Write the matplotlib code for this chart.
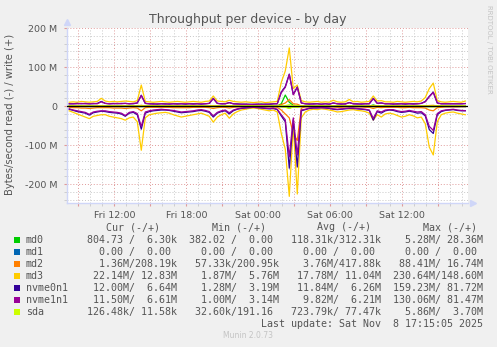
import numpy as np
import matplotlib
matplotlib.use("Agg")
import matplotlib.pyplot as plt
from matplotlib.patches import Rectangle
from matplotlib.ticker import MultipleLocator, FixedLocator

# time axis: hours since Fri 00:00, one sample every 20 minutes
t_start = 8.25
t_step = 1 / 3
n_pts = 100

# values in MB/s, read values are drawn below zero
md0_read = [
    0.1, 0.1, 0.1, 0.1, 0.1, 0.1, 0.1, 0.1, 0.2, 0.1,
    0.1, 0.1, 0.1, 0.1, 0.1, 0.1, 0.1, 0.1, 0.6, 0.1,
    0.1, 0.1, 0.1, 0.1, 0.1, 0.1, 0.1, 0.1, 0.1, 0.1,
    0.1, 0.1, 0.1, 0.1, 0.1, 0.1, 0.3, 0.1, 0.1, 0.1,
    0.1, 0.1, 0.1, 0.1, 0.1, 0.1, 0.1, 0.1, 0.1, 0.1,
    0.1, 0.1, 0.1, 0.8, 1.5, 5.3, 1.2, 2.0, 0.1, 0.1,
    0.1, 0.1, 0.1, 0.1, 0.1, 0.1, 0.1, 0.1, 0.1, 0.1,
    0.1, 0.1, 0.1, 0.1, 0.1, 0.1, 0.4, 0.1, 0.1, 0.1,
    0.1, 0.1, 0.1, 0.1, 0.1, 0.1, 0.1, 0.1, 0.1, 0.1,
    0.3, 0.4, 0.1, 0.1, 0.1, 0.1, 0.1, 0.1, 0.1, 0.1,
]
md0_write = [
    0.05, 0.05, 0.05, 0.05, 0.05, 0.05, 0.05, 0.05, 0.1, 0.05,
    0.05, 0.05, 0.05, 0.05, 0.05, 0.05, 0.05, 0.05, 0.5, 0.05,
    0.05, 0.05, 0.05, 0.05, 0.05, 0.05, 0.05, 0.05, 0.05, 0.05,
    0.05, 0.05, 0.05, 0.05, 0.05, 0.05, 0.3, 0.05, 0.05, 0.05,
    0.05, 0.05, 0.05, 0.05, 0.05, 2.0, 4.0, 3.0, 5.0, 3.0,
    4.0, 2.0, 0.5, 6.0, 28.4, 10.0, 2.0, 1.0, 0.05, 0.05,
    0.05, 0.05, 0.05, 0.05, 0.05, 0.05, 0.05, 0.05, 0.05, 0.05,
    0.05, 0.05, 0.05, 0.05, 0.05, 0.05, 3.0, 0.05, 0.05, 0.05,
    0.05, 0.05, 0.05, 0.05, 0.05, 0.05, 0.05, 0.05, 0.05, 0.05,
    0.2, 0.3, 0.05, 0.05, 0.05, 0.05, 0.05, 0.05, 0.05, 0.01,
]
md1_read = [
    0, 0, 0, 0, 0, 0, 0, 0, 0, 0, 0, 0, 0, 0, 0, 0, 0, 0, 0, 0,
    0, 0, 0, 0, 0, 0, 0, 0, 0, 0, 0, 0, 0, 0, 0, 0, 0, 0, 0, 0,
    0, 0, 0, 0, 0, 0, 0, 0, 0, 0, 0, 0, 0, 0, 0, 0, 0, 0, 0, 0,
    0, 0, 0, 0, 0, 0, 0, 0, 0, 0, 0, 0, 0, 0, 0, 0, 0, 0, 0, 0,
    0, 0, 0, 0, 0, 0, 0, 0, 0, 0, 0, 0, 0, 0, 0, 0, 0, 0, 0, 0,
]
md1_write = list(md1_read)
md2_read = [
    3, 4, 4, 5, 5, 6, 5, 4, 4, 4,
    4, 5, 5, 5, 6, 5, 4, 5, 12, 4,
    3, 3, 3, 3, 3, 3, 4, 4, 4, 4,
    4, 3, 3, 3, 3, 4, 6, 4, 3, 3,
    5, 3, 2, 2, 2, 1, 1, 1, 2, 2,
    2, 2, 3, 10, 20, 30, 70, 88, 5, 2,
    2, 2, 2, 2, 2, 2, 2, 3, 3, 2,
    2, 2, 2, 2, 3, 3, 6, 3, 4, 3,
    3, 3, 3, 4, 4, 3, 4, 4, 4, 5,
    10, 12, 4, 3, 2, 2, 2, 2, 1.5, 1.4,
]
md2_write = [
    0.3, 0.3, 0.4, 0.3, 0.4, 0.3, 0.3, 0.4, 0.6, 0.3,
    0.3, 0.4, 0.3, 0.4, 0.4, 0.3, 0.3, 0.4, 2.0, 0.3,
    0.3, 0.3, 0.3, 0.3, 0.3, 0.3, 0.3, 0.3, 0.3, 0.3,
    0.3, 0.3, 0.3, 0.3, 0.3, 0.4, 1.0, 0.4, 0.3, 0.3,
    0.5, 0.3, 0.3, 0.3, 0.3, 0.3, 0.3, 0.3, 0.3, 0.3,
    0.3, 0.3, 0.3, 4.0, 8.0, 16.7, 6.0, 5.0, 0.4, 0.3,
    0.3, 0.3, 0.3, 0.3, 0.3, 0.3, 0.3, 0.3, 0.3, 0.3,
    0.3, 0.3, 0.3, 0.3, 0.3, 0.3, 1.0, 0.3, 0.3, 0.3,
    0.3, 0.3, 0.3, 0.3, 0.3, 0.3, 0.3, 0.3, 0.3, 0.5,
    1.5, 2.0, 0.3, 0.3, 0.3, 0.3, 0.3, 0.3, 0.3, 0.2,
]
md3_read = [
    12, 16, 20, 24, 28, 32, 26, 24, 22, 22,
    26, 28, 30, 32, 36, 30, 28, 40, 113, 30,
    22, 20, 18, 17, 16, 18, 22, 25, 28, 26,
    24, 22, 20, 18, 22, 26, 41, 28, 22, 18,
    31, 20, 14, 10, 8, 6, 5, 6, 8, 10,
    12, 10, 15, 70, 110, 231, 50, 225, 30, 15,
    10, 8, 9, 7, 8, 10, 12, 15, 14, 12,
    10, 9, 11, 12, 14, 18, 36, 22, 28, 20,
    18, 20, 24, 28, 26, 22, 25, 30, 28, 45,
    105, 125, 40, 22, 18, 16, 15, 18, 20, 22,
]
md3_write = [
    10, 11, 10, 12, 11, 10, 11, 12, 20, 13,
    11, 12, 11, 12, 13, 12, 11, 14, 54, 12,
    11, 10, 11, 12, 11, 10, 11, 12, 11, 10,
    11, 12, 11, 10, 12, 13, 26, 13, 12, 11,
    15, 12, 11, 10, 11, 10, 9, 10, 11, 9,
    10, 11, 12, 61, 90, 149, 45, 54, 14, 11,
    10, 11, 12, 10, 11, 10, 15, 11, 10, 11,
    17, 11, 12, 10, 11, 12, 26, 13, 14, 11,
    11, 10, 12, 11, 10, 11, 12, 11, 13, 22,
    45, 59, 14, 11, 10, 11, 12, 11, 10, 13,
]
nvme0n1_read = [
    8, 11, 14, 16, 18, 23, 17, 15, 13, 14,
    16, 17, 18, 20, 26, 18, 16, 22, 59, 18,
    14, 12, 11, 10, 10, 11, 13, 15, 17, 16,
    15, 14, 12, 11, 13, 16, 28, 18, 14, 12,
    20, 12, 8, 6, 5, 4, 3, 4, 5, 6,
    7, 6, 9, 25, 40, 159, 35, 156, 12, 9,
    6, 5, 5, 4, 5, 6, 8, 9, 8, 7,
    6, 6, 7, 8, 9, 11, 36, 14, 18, 12,
    10, 11, 14, 16, 15, 13, 15, 18, 17, 25,
    60, 70, 22, 14, 11, 10, 9, 11, 12, 12,
]
nvme0n1_write = [
    6, 6, 7, 6, 7, 6, 6, 7, 12, 7,
    6, 7, 6, 7, 7, 6, 6, 8, 28, 7,
    6, 6, 5, 6, 6, 5, 6, 6, 6, 5,
    6, 6, 6, 5, 6, 7, 20, 7, 6, 6,
    9, 6, 6, 5, 5, 5, 4, 5, 5, 5,
    5, 6, 6, 36, 50, 82, 30, 49, 8, 6,
    5, 6, 6, 5, 6, 5, 8, 6, 5, 6,
    9, 6, 6, 5, 6, 6, 20, 7, 8, 6,
    6, 5, 6, 6, 5, 6, 6, 6, 7, 12,
    25, 36, 8, 6, 6, 6, 6, 6, 6, 6.6,
]
nvme1n1_read = [
    7, 10, 12, 14, 16, 21, 15, 13, 12, 12,
    14, 15, 16, 18, 24, 16, 14, 19, 52, 15,
    12, 10, 9, 8, 9, 10, 11, 13, 15, 14,
    13, 12, 10, 9, 11, 14, 25, 16, 12, 10,
    17, 10, 7, 5, 4, 3, 3, 3, 4, 5,
    6, 5, 8, 22, 35, 130, 30, 125, 10, 8,
    5, 4, 4, 4, 4, 5, 7, 8, 7, 6,
    5, 5, 6, 7, 8, 10, 31, 12, 15, 10,
    9, 9, 12, 14, 13, 11, 13, 15, 14, 22,
    52, 62, 19, 12, 10, 9, 8, 10, 11, 11.5,
]
nvme1n1_write = [
    6, 6, 6, 7, 6, 6, 7, 6, 11, 7,
    6, 6, 7, 6, 7, 6, 7, 8, 27, 7,
    6, 5, 6, 6, 5, 6, 6, 5, 6, 6,
    6, 5, 6, 6, 6, 7, 19, 7, 6, 6,
    9, 6, 5, 5, 5, 4, 5, 5, 4, 5,
    5, 6, 6, 35, 48, 81, 29, 48, 8, 6,
    6, 5, 6, 5, 6, 5, 8, 6, 6, 5,
    9, 6, 5, 6, 6, 6, 19, 7, 8, 6,
    6, 6, 5, 6, 6, 6, 5, 6, 7, 11,
    24, 35, 8, 6, 6, 6, 6, 6, 6, 6.6,
]
sda_read = [
    0.6, 0.7, 0.7, 0.8, 0.7, 0.6, 0.7, 0.8, 0.9, 0.7,
    0.6, 0.7, 0.7, 0.8, 0.7, 0.6, 0.7, 0.8, 1.5, 0.7,
    0.6, 0.7, 0.7, 0.6, 0.7, 0.6, 0.7, 0.8, 0.7, 0.7,
    0.6, 0.7, 0.7, 0.8, 0.7, 0.6, 1.2, 0.8, 0.7, 0.7,
    0.8, 0.7, 0.6, 0.6, 0.5, 0.5, 0.6, 0.5, 0.6, 0.6,
    0.6, 0.7, 0.7, 2.0, 3.0, 5.9, 2.0, 3.5, 0.7, 0.6,
    0.6, 0.7, 0.6, 0.6, 0.7, 0.6, 0.7, 0.8, 0.7, 0.7,
    0.6, 0.7, 0.7, 0.8, 0.7, 0.6, 1.5, 0.8, 0.7, 0.7,
    0.6, 0.7, 0.7, 0.8, 0.7, 0.6, 0.7, 0.8, 0.7, 0.9,
    1.8, 2.2, 0.8, 0.7, 0.6, 0.6, 0.5, 0.4, 0.2, 0.13,
]
sda_write = [
    0.08, 0.08, 0.08, 0.08, 0.08, 0.08, 0.08, 0.08, 0.08, 0.08,
    0.08, 0.08, 0.08, 0.08, 0.08, 0.08, 0.08, 0.08, 0.5, 0.08,
    0.08, 0.08, 0.08, 0.08, 0.08, 0.08, 0.08, 0.08, 0.08, 0.08,
    0.08, 0.08, 0.08, 0.08, 0.08, 0.08, 0.2, 0.08, 0.08, 0.08,
    0.08, 0.08, 0.08, 0.08, 0.08, 0.08, 0.08, 0.08, 0.08, 0.08,
    0.08, 0.08, 0.08, 0.5, 1.0, 3.7, 1.0, 1.5, 0.08, 0.08,
    0.08, 0.08, 0.08, 0.08, 0.08, 0.08, 0.08, 0.08, 0.08, 0.08,
    0.08, 0.08, 0.08, 0.08, 0.08, 0.08, 0.3, 0.08, 0.08, 0.08,
    0.08, 0.08, 0.08, 0.08, 0.08, 0.08, 0.08, 0.08, 0.08, 0.08,
    0.2, 0.3, 0.08, 0.08, 0.08, 0.08, 0.08, 0.08, 0.08, 0.01,
]

devices = ["md0", "md1", "md2", "md3", "nvme0n1", "nvme1n1", "sda"]
colors = ["#00CC00", "#0066B3", "#FF8000", "#FFCC00", "#330099", "#990099", "#CCFF00"]
reads = [md0_read, md1_read, md2_read, md3_read, nvme0n1_read, nvme1n1_read, sda_read]
writes = [md0_write, md1_write, md2_write, md3_write, nvme0n1_write, nvme1n1_write, sda_write]

cur_vals = ["804.73 /  6.30k", "  0.00 /  0.00 ", "  1.36M/208.19k", " 22.14M/ 12.83M",
            " 12.00M/  6.64M", " 11.50M/  6.61M", "126.48k/ 11.58k"]
min_vals = ["382.02 /  0.00 ", "  0.00 /  0.00 ", " 57.33k/200.95k", "  1.87M/  5.76M",
            "  1.28M/  3.19M", "  1.00M/  3.14M", " 32.60k/191.16 "]
avg_vals = ["118.31k/312.31k", "  0.00 /  0.00 ", "  3.76M/417.88k", " 17.78M/ 11.04M",
            " 11.84M/  6.26M", "  9.82M/  6.21M", "723.79k/ 77.47k"]
max_vals = ["  5.28M/ 28.36M", "  0.00 /  0.00 ", " 88.41M/ 16.74M", "230.64M/148.60M",
            "159.23M/ 81.72M", "130.06M/ 81.47M", "  5.86M/  3.70M"]

x_ticks = [12, 18, 24, 30, 36]
x_labels = ["Fri 12:00", "Fri 18:00", "Sat 00:00", "Sat 06:00", "Sat 12:00"]
y_ticks = [-200, -100, 0, 100, 200]
y_labels = ["-200 M", "-100 M", "0", "100 M", "200 M"]

W, H = 497, 347
def fx(px):
    return px / W
def fy(py):
    return 1 - py / H

txt = "#555555"
fig = plt.figure(figsize=(W / 100, H / 100), dpi=100, facecolor="#F0F0F0")
ax = fig.add_axes([fx(67), fy(203), 401 / W, 175 / H])
ax.set_facecolor("white")

t = t_start + t_step * np.arange(n_pts)
for name, col, rd, wr in zip(devices, colors, reads, writes):
    ax.plot(t, -np.array(rd), color=col, lw=0.9, zorder=3)
    ax.plot(t, np.array(wr), color=col, lw=0.9, zorder=3)
ax.axhline(0, color="black", lw=0.9, zorder=4)

x0 = 8.06
ax.set_xlim(x0, x0 + 401 / 12)
ax.set_ylim(-248, 200)

# grid: red every 3 h / 100M, grey every hour / 20M
ax.xaxis.set_major_locator(FixedLocator([9, 12, 15, 18, 21, 24, 27, 30, 33, 36, 39]))
ax.xaxis.set_minor_locator(MultipleLocator(1))
ax.set_xticklabels([x_labels[x_ticks.index(v)] if v in x_ticks else "" for v in
                    [9, 12, 15, 18, 21, 24, 27, 30, 33, 36, 39]])
ax.yaxis.set_major_locator(FixedLocator(y_ticks))
ax.yaxis.set_minor_locator(MultipleLocator(20))
ax.set_yticklabels(y_labels)
ax.grid(which="minor", color="#c8c8c8", lw=0.7, ls=(0, (1, 2)), zorder=1)
ax.grid(which="major", color="#e09a9a", lw=0.7, ls=(0, (1, 2)), zorder=1)
ax.tick_params(which="major", length=2, color="#e09a9a", labelsize=6.8, labelcolor=txt, pad=4)
ax.tick_params(which="minor", length=2, color="#c8c8c8")
ax.tick_params(axis="y", pad=5)

for s in ["top", "right"]:
    ax.spines[s].set_visible(False)
for s in ["left", "bottom"]:
    ax.spines[s].set_color("#cfd6f8")
    ax.spines[s].set_linewidth(1)
ax.plot([0], [1.035], marker="^", color="#cfd6f8", ms=4, transform=ax.transAxes, clip_on=False)
ax.plot([1.012], [0], marker=">", color="#cfd6f8", ms=4, transform=ax.transAxes, clip_on=False)

fig.text(fx(248), fy(19), "Throughput per device - by day", ha="center", va="center",
         fontsize=9, color=txt)
fig.text(fx(10), fy(114), "Bytes/second read (-) / write (+)", rotation=90,
         ha="center", va="center", fontsize=7.2, color=txt)
fig.text(fx(489), fy(5), "RRDTOOL / TOBI OETIKER", rotation=270, ha="center", va="top",
         fontsize=5, color="#c4c4c4")

mono = "DejaVu Sans Mono"
fs = 7.2
for hx, h in zip([106, 212, 317, 423], ["Cur (-/+)", "Min (-/+)", "Avg (-/+)", "Max (-/+)"]):
    fig.text(fx(hx), fy(227), h, family=mono, fontsize=fs, color=txt, va="center")
for k, name in enumerate(devices):
    yy = 240 + 12 * k
    fig.patches.append(Rectangle((fx(14), fy(yy + 3)), 6 / W, 6 / H, transform=fig.transFigure,
                                 facecolor=colors[k], edgecolor="none"))
    fig.text(fx(26), fy(yy), name, family=mono, fontsize=fs, color=txt, va="center")
    row = "  ".join([cur_vals[k], min_vals[k], avg_vals[k], max_vals[k]])
    fig.text(fx(87), fy(yy), row, family=mono, fontsize=fs, color=txt, va="center")
fig.text(fx(483), fy(324), "Last update: Sat Nov  8 17:15:05 2025", family=mono, fontsize=fs,
         color=txt, va="center", ha="right")
fig.text(fx(248), fy(336), "Munin 2.0.73", fontsize=5.5, color="#c4c4c4", ha="center", va="center")

fig.savefig("out.png", dpi=100, facecolor=fig.get_facecolor())
